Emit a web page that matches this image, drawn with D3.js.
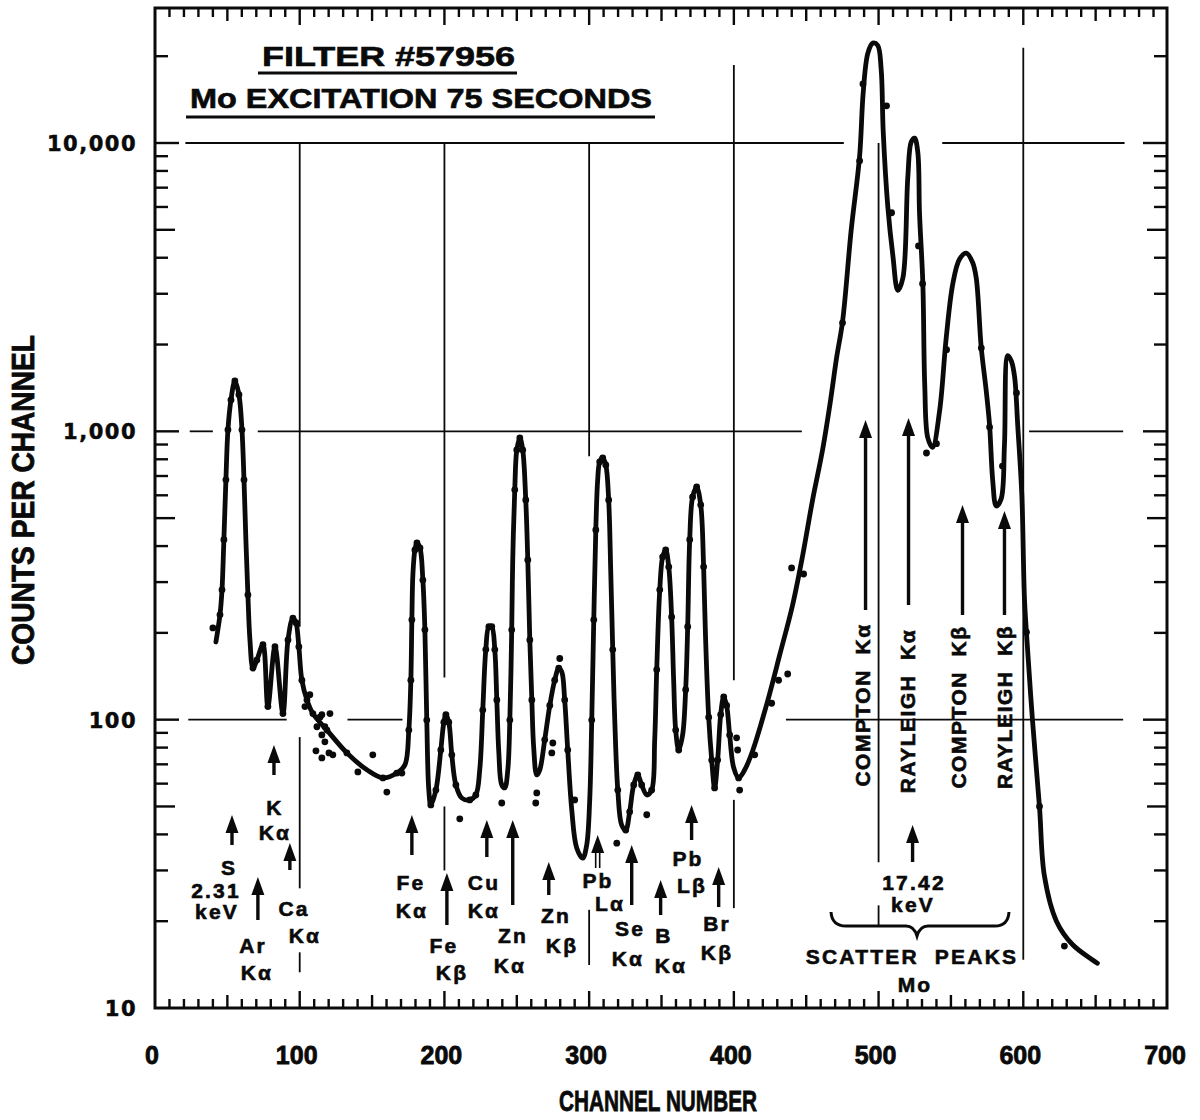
<!DOCTYPE html>
<html><head><meta charset="utf-8">
<script src="https://cdn.jsdelivr.net/npm/d3@7"></script>
<style>body{margin:0;background:#fff}svg{display:block}</style>
</head><body>
<svg id="chart" width="1200" height="1120"></svg>
<script>
// ---------------- DATA ----------------
const curveChannel = [42.1,44.9,46.3,47.6,49.0,50.4,52.5,55.2,58.0,60.1,61.5,62.8,64.2,65.6,67.7,70.4,74.6,78.0,82.9,88.4,91.9,95.3,97.4,99.4,101.5,105.0,109.1,118.8,132.6,146.4,157.5,167.1,172.7,175.4,176.8,177.5,178.2,179.6,181.0,183.1,185.1,186.5,187.8,189.2,190.6,194.1,197.5,199.6,201.0,203.0,205.1,207.9,212.0,217.5,221.7,224.4,226.5,228.6,230.7,232.7,234.8,236.2,237.6,239.6,241.7,243.8,245.2,246.5,247.2,248.6,250.0,252.1,254.1,256.2,257.6,259.0,260.4,261.7,263.8,265.9,269.3,272.8,276.2,279.0,281.1,283.1,285.2,288.0,291.4,295.6,298.3,300.4,301.8,303.2,304.6,305.9,307.3,309.4,311.5,313.5,314.9,316.3,317.7,319.8,322.5,325.3,328.0,330.8,333.6,336.3,339.8,343.2,345.3,346.7,348.8,350.8,352.9,355.0,357.0,358.4,359.8,361.9,364.6,366.7,368.1,369.5,371.5,374.3,377.1,379.1,380.5,382.6,384.7,386.7,388.8,390.9,393.0,395.0,397.1,399.9,403.3,407.5,413.0,422.7,432.0,440.6,447.5,454.4,461.3,466.5,471.0,475.1,481.1,486.9,489.4,492.6,496.0,499.4,501.8,503.2,506.4,509.9,513.3,516.8,520.2,522.6,524.9,527.1,528.3,530.6,531.9,534.0,537.3,542.2,546.7,551.3,555.9,560.6,565.0,567.5,570.9,574.4,576.7,578.9,581.3,584.7,587.0,589.3,591.8,594.0,596.2,599.0,600.8,602.5,606.4,611.2,614.6,622.9,634.0,651.2];
const curveCounts = [186,231,282,421,679,1012,1285,1496,1340,1012,679,421,271,189,151,161,182,111,179,105,189,225,217,179,137,117,105,92,76.7,67,62.8,65.3,69.7,92,137,222,318,388,410,394,305,205,99.7,57,50.6,57,78.5,98,104,98,75.5,59.4,53.5,52.7,54.8,67,108,175,210,210,175,117,76.7,59.4,58,67,99.7,205,358,627,862,949,862,578,358,189,117,79.8,64.3,67,85.1,112,137,151,146.5,117,78.5,48.6,35.9,33.1,36.7,52.7,99.7,222,455,679,784,809,765,578,331,175,99.7,57,43.1,41.4,47.9,59.4,64.3,59.4,54.8,57,85.1,149,282,367,388,339,227,137,92,78.5,88.5,127,210,421,592,641,556,339,189,102,72.4,58,72.4,104,120,112,88.5,68.1,62.8,67,78,113,170,250,370,578,862,1250,1800,2400,5000,9000,15000,20500,22200,21800,18000,11000,6000,4060,3080,3400,7600,10100,10400,9300,5700,3250,1450,950,880,1180,2100,3250,3950,4150,3850,3400,1963,1381,1052,673,551,583,900,1830,1750,1545,1040,600,264,190,99,49.8,28.7,20.0,16.6,14.3];

const dotChannel = [40.0,44.9,46.3,47.6,49.0,50.4,52.5,55.2,58.0,60.1,61.5,64.2,67.7,70.4,74.6,78.0,82.9,88.4,91.9,95.3,97.4,99.4,101.5,105.0,107.0,103.6,109.1,114.0,115.3,120.9,111.9,117.4,115.3,117.4,111.2,115.3,120.2,122.9,118.8,132.6,140.2,150.5,157.5,160.2,167.1,170.6,175.4,176.8,177.5,179.6,181.0,183.1,185.1,186.5,187.8,190.6,194.1,197.5,199.6,201.0,203.0,205.1,207.9,210.6,217.5,221.7,226.5,228.6,230.7,232.7,234.8,236.2,239.6,245.2,246.5,248.6,250.0,252.1,254.1,256.2,257.6,259.0,260.4,263.8,263.1,269.3,272.8,274.9,274.2,276.2,279.0,279.7,283.1,285.2,290.0,301.8,303.2,304.6,307.3,309.4,311.5,313.5,316.3,319.8,319.1,325.3,328.0,330.8,333.6,336.3,339.8,343.2,346.7,348.8,350.8,352.9,355.0,357.0,359.8,361.9,366.7,368.1,369.5,371.5,374.3,377.1,379.1,382.6,384.7,386.7,388.8,390.9,393.0,395.0,397.1,402.6,401.9,404.0,403.3,414.4,426.1,430.9,437.2,439.9,448.2,475.1,486.9,489.2,505.5,509.0,527.6,530.4,533.1,540.0,547.0,571.0,576.7,585.6,595.3,602.2,611.2,628.4];
const dotCounts = [208,231,282,421,679,1012,1285,1496,1340,1012,679,271,151,161,182,111,179,105,189,225,217,179,137,117,122,111,105,102,104,105,94.5,94.5,88.5,83.8,78,73.7,76.7,75.5,92,76.7,65.9,75.5,62.8,56.1,65.3,65.3,92,137,222,388,410,394,305,205,99.7,50.6,57,78.5,98,104,98,75.5,59.4,45.3,52.7,54.8,108,175,210,210,175,117,51.4,99.7,205,627,862,949,862,578,358,189,117,55.7,51.4,85.1,112,83,76.7,137,151,163,117,78.5,52.7,99.7,222,455,784,809,765,578,175,57,37.3,41.4,47.9,59.4,64.3,59.4,46.8,57,149,282,367,388,339,227,92,78.5,127,210,421,592,641,556,339,102,72.4,58,72.4,104,120,112,88.5,78.5,86.5,57,62.8,75.5,114,137,144,336,320,2378,8670,16030,13460,5730,4395,3250,841,906,1919,1945,1035,758,1358,201,50,16.4];

const xTickValues = [0,100,200,300,400,500,600,700];
const xTickLabels = ["0","100","200","300","400","500","600","700"];
const yTickValues = [10,100,1000,10000];
const yTickLabels = ["10","100","1,000","10,000"];

const titleLines = ["FILTER #57956","Mo EXCITATION 75 SECONDS"];
const xAxisTitle = "CHANNEL NUMBER";
const yAxisTitle = "COUNTS PER CHANNEL";

// peak identification arrows (channel where the arrow points)
const arrowChannels = [53.2,82.2,93.2,71.1,177.5,201.7,229.3,247.2,272.1,305.9,329.4,349.4,370.8,389.5,491,520.7,558,587,523.5];

// ---------------- DRAWING ----------------
const svg = d3.select("#chart");
const L = 155, R = 1167, T = 8, B = 1008;
const x = d3.scaleLinear().domain([0,700]).range([155,1168]);
const y = d3.scaleLog().domain([10,10000]).range([B,143]);
const ink = "#0a0a0a";
const narrow = "'Liberation Sans Narrow','Liberation Sans',Arial,sans-serif";
const bold = "'Liberation Sans',Arial,sans-serif";

// gridline segments (data units)
const hSeg = [[10000,21,476],[10000,544,670],[1000,24,40],[1000,71,447],[1000,604,669],[100,23,91],[100,133,171],[100,436,669]];
const vSeg = [[100,210,10000],[100,26,87],[100,13.3,15.6],[200,140,10000],[200,30,50],[300,820,10000],[300,14.1,21.9],[400,137,18660],[400,22.2,52.7],[500,32,10000],[500,19.4,22.7],[600,14.7,21380]];
const g = svg.append("g");
g.selectAll("line.h").data(hSeg).join("line")
  .attr("x1",d=>x(d[1])).attr("x2",d=>x(d[2])).attr("y1",d=>y(d[0])).attr("y2",d=>y(d[0]))
  .attr("stroke",ink).attr("stroke-width",1.8);
g.selectAll("line.v").data(vSeg).join("line")
  .attr("x1",d=>x(d[0])).attr("x2",d=>x(d[0])).attr("y1",d=>y(d[1])).attr("y2",d=>y(d[2]))
  .attr("stroke",ink).attr("stroke-width",1.8);

// frame
svg.append("rect").attr("x",L).attr("y",T).attr("width",R-L).attr("height",B-T)
  .attr("fill","none").attr("stroke",ink).attr("stroke-width",3);

// x ticks top & bottom
const xt = d3.range(10,700,10);
const xlen = c => c%100===0 ? 17 : (c%50===0 ? 13 : 9);
svg.append("g").selectAll("line").data(xt).join("line")
  .attr("x1",d=>x(d)).attr("x2",d=>x(d)).attr("y1",B).attr("y2",d=>B-xlen(d))
  .attr("stroke",ink).attr("stroke-width",2.4);
svg.append("g").selectAll("line").data(xt).join("line")
  .attr("x1",d=>x(d)).attr("x2",d=>x(d)).attr("y1",T).attr("y2",d=>T+xlen(d))
  .attr("stroke",ink).attr("stroke-width",2.4);

// y ticks left & right
const ytop = y.invert(T);
const yt = [];
[10,100,1000,10000].forEach(dec=>{ for(let k=1;k<=9;k++){ const v=dec*k; if(v>10 && v<ytop) yt.push(v);} });
const ylen = v => { const m = v/Math.pow(10,Math.floor(Math.log10(v)+1e-9)); return Math.abs(m-1)<1e-6 ? 24 : (Math.abs(m-5)<1e-6 ? 20 : 13); };
svg.append("g").selectAll("line").data(yt).join("line")
  .attr("x1",L).attr("x2",d=>L+ylen(d)).attr("y1",d=>y(d)).attr("y2",d=>y(d))
  .attr("stroke",ink).attr("stroke-width",2.4);
svg.append("g").selectAll("line").data(yt).join("line")
  .attr("x1",R).attr("x2",d=>R-ylen(d)).attr("y1",d=>y(d)).attr("y2",d=>y(d))
  .attr("stroke",ink).attr("stroke-width",2.4);

// heavier text helper
function heavy(sel, w){ return sel.attr("stroke",ink).attr("stroke-width",w).attr("paint-order","stroke"); }

// tick labels
heavy(svg.append("g").selectAll("text").data(xTickValues).join("text")
  .attr("x",d=>x(d)-3).attr("y",1064).attr("text-anchor","middle")
  .attr("font-family",narrow).attr("font-weight","bold").attr("font-size",25).attr("fill",ink)
  .text((d,i)=>xTickLabels[i]),0.8);
heavy(svg.append("g").selectAll("text").data(yTickValues).join("text")
  .attr("x",137).attr("y",d=>y(d)+8).attr("text-anchor","end")
  .attr("font-family","'DejaVu Sans',sans-serif").attr("font-weight","bold").attr("font-size",21)
  .attr("letter-spacing",1.5).attr("fill",ink)
  .text((d,i)=>yTickLabels[i]),0.5);

// axis titles
heavy(svg.append("text").attr("x",658).attr("y",1111).attr("text-anchor","middle")
  .attr("font-family",narrow).attr("font-weight","bold").attr("font-size",30).attr("fill",ink)
  .attr("textLength",198).attr("lengthAdjust","spacingAndGlyphs").text(xAxisTitle),0.8);
heavy(svg.append("text").attr("transform","translate(34,500) rotate(-90)").attr("text-anchor","middle")
  .attr("font-family",narrow).attr("font-weight","bold").attr("font-size",31).attr("fill",ink)
  .attr("textLength",330).attr("lengthAdjust","spacingAndGlyphs").text(yAxisTitle),0.8);

// titles with underlines
heavy(svg.append("text").attr("x",262).attr("y",66).attr("font-family",bold).attr("font-weight","bold")
  .attr("font-size",27).attr("fill",ink).attr("textLength",253).attr("lengthAdjust","spacingAndGlyphs").text(titleLines[0]),0.6);
svg.append("line").attr("x1",258).attr("x2",517).attr("y1",73).attr("y2",73).attr("stroke",ink).attr("stroke-width",3);
heavy(svg.append("text").attr("x",190).attr("y",108).attr("font-family",bold).attr("font-weight","bold")
  .attr("font-size",27).attr("fill",ink).attr("textLength",462).attr("lengthAdjust","spacingAndGlyphs").text(titleLines[1]),0.6);
svg.append("line").attr("x1",186).attr("x2",655).attr("y1",117).attr("y2",117).attr("stroke",ink).attr("stroke-width",3);

// curve
const line = d3.line().x((d,i)=>x(curveChannel[i])).y((d,i)=>y(curveCounts[i])).curve(d3.curveCatmullRom.alpha(0.5));
svg.append("path").datum(curveChannel).attr("d",line).attr("fill","none")
  .attr("stroke",ink).attr("stroke-width",4.8).attr("stroke-linejoin","round").attr("stroke-linecap","round");

// measured points
svg.append("g").selectAll("circle").data(dotChannel).join("circle")
  .attr("cx",d=>x(d)).attr("cy",(d,i)=>y(dotCounts[i])).attr("r",3.4).attr("fill",ink);

// arrows (tail y, head y in px)
const arrowY = [[845,815],[775,745],[870,843],[920,877],[855,815],[925,873],[857,820],[905,820],[895,862],[868,835],[905,845],[915,880],[840,805],[907,867],[610,420],[605,418],[615,505],[615,511],[862,825]];
const ag = svg.append("g");
arrowChannels.forEach((c,i)=>{
  const xx = x(c), y0 = arrowY[i][0], y1 = arrowY[i][1];
  if(i===9){
    ag.append("line").attr("x1",xx-2).attr("x2",xx-2).attr("y1",y0).attr("y2",y1+10).attr("stroke",ink).attr("stroke-width",1.6);
    ag.append("line").attr("x1",xx+2).attr("x2",xx+2).attr("y1",y0).attr("y2",y1+10).attr("stroke",ink).attr("stroke-width",1.6);
  } else {
    ag.append("line").attr("x1",xx).attr("x2",xx).attr("y1",y0).attr("y2",y1+10).attr("stroke",ink).attr("stroke-width",3.4);
  }
  ag.append("path").attr("d",`M${xx-6.5},${y1+18}L${xx},${y1}L${xx+6.5},${y1+18}Z`).attr("fill",ink);
});

// labels
const labels = [
  ["K",275,815],["Kα",275,840],["S",229,875],["2.31",216,898],["keV",217,919],
  ["Ar",253,953],["Kα",257,980],["Ca",294,916],["Kα",305,943],
  ["Fe",411,890],["Kα",412,918],["Fe",444,953],["Kβ",452,980],
  ["Cu",484,890],["Kα",484,918],["Zn",513,943],["Kα",510,973],
  ["Zn",556,923],["Kβ",562,953],["Pb",598,888],["Lα",610,911],
  ["Se",630,936],["Kα",628,966],["B",664,943],["Kα",671,973],
  ["Pb",688,866],["Lβ",692,893],["Br",717,931],["Kβ",717,960],
  ["17.42",914,890],["keV",913,912],["SCATTER  PEAKS",912,964],["Mo",915,992]
];
heavy(svg.append("g").selectAll("text").data(labels).join("text")
  .attr("x",d=>d[1]).attr("y",d=>d[2]).attr("text-anchor","middle")
  .attr("font-family",bold).attr("font-weight","bold").attr("font-size",21).attr("letter-spacing",2.2)
  .attr("fill",ink).style("white-space","pre").text(d=>d[0]),0.6);

const vlabels = [["COMPTON  Kα",862,705],["RAYLEIGH  Kα",907,711],["COMPTON  Kβ",958,707],["RAYLEIGH  Kβ",1004,707]];
heavy(svg.append("g").selectAll("text").data(vlabels).join("text")
  .attr("transform",d=>`translate(${d[1]},${d[2]}) rotate(-90)`).attr("text-anchor","middle")
  .attr("dominant-baseline","central")
  .attr("font-family",bold).attr("font-weight","bold").attr("font-size",21).attr("letter-spacing",1.5)
  .attr("fill",ink).style("white-space","pre").text(d=>d[0]),0.6);

// brace
svg.append("path").attr("d","M831,912 Q832,926 846,926 L906,926 Q914,926 917,936 Q920,926 928,926 L995,926 Q1008,926 1009,912")
  .attr("fill","none").attr("stroke",ink).attr("stroke-width",3);
</script>
</body></html>
